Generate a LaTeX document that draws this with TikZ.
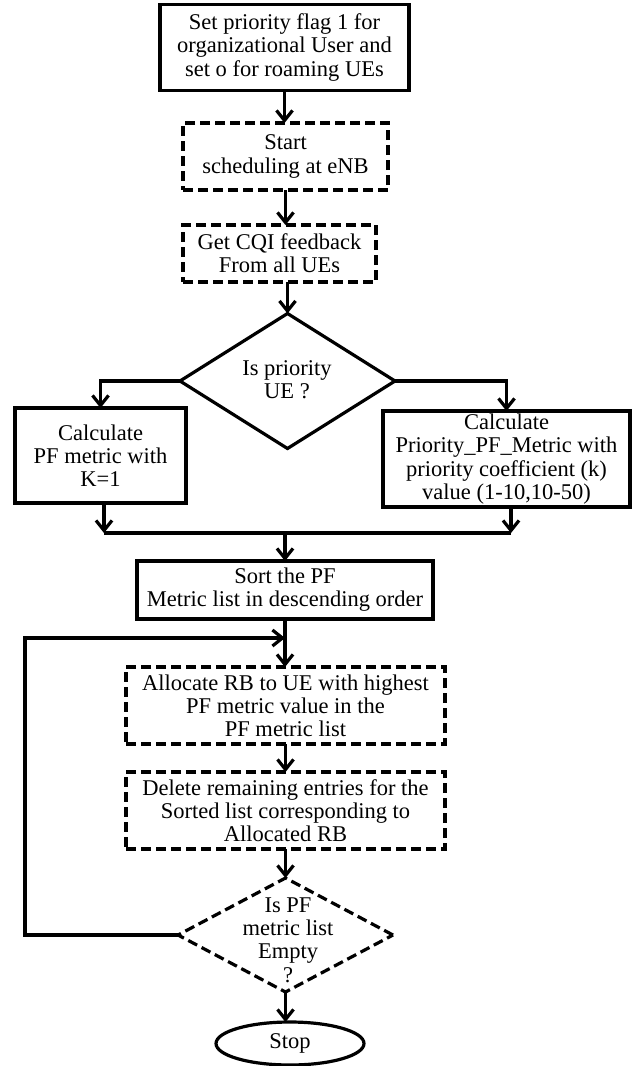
\documentclass[tikz,border=0pt]{standalone}
\usepackage{fontspec}
\setmainfont{Liberation Serif}
\usetikzlibrary{arrows.meta,shapes.geometric,calc}
\begin{document}
\begin{tikzpicture}[x=1pt,y=-1pt,
  every node/.style={font=\fontsize{22.5}{23.2}\selectfont, align=center, inner sep=0pt, outer sep=0pt},
  solidbox/.style={draw, line width=3.2pt, rectangle},
  dashbox/.style={draw, line width=3.2pt, rectangle, dash pattern=on 10pt off 5pt},
  dshape/.style={draw, diamond, line width=3.2pt},
  conn/.style={line width=3.2pt},
  arr/.style={line width=3.2pt, -{Straight Barb[length=10pt,width=16pt]}}
]
\useasboundingbox (0,0) rectangle (632,1066);

\node[solidbox, minimum width=249pt, minimum height=86pt] (b1) at (284.5,47.5)
  {Set priority flag 1 for\\organizational User and\\set o for roaming UEs};
\node[dashbox, minimum width=205pt, minimum height=67pt] (b2) at (285.5,156.5)
  {Start\\scheduling at eNB};
\node[dashbox, minimum width=193pt, minimum height=57pt] (b3) at (279.5,253.5)
  {Get CQI feedback\\From all UEs};
\node[dshape, minimum width=215pt, minimum height=135pt] (d1) at (287.5,381) {};
\node (d1t) at (287,380) {Is priority\\UE ?};
\node[solidbox, minimum width=171pt, minimum height=95pt] (lb) at (100.5,455.5)
  {Calculate\\PF metric with\\K=1};
\node[solidbox, minimum width=247pt, minimum height=96pt] (rb) at (506.5,459)
  {Calculate\\Priority\_PF\_Metric with\\priority coefficient (k)\\value (1-10,10-50)};
\node[solidbox, minimum width=296pt, minimum height=58pt] (sb) at (285,590)
  {Sort the PF\\Metric list in descending order};
\node[dashbox, minimum width=319pt, minimum height=77pt] (ab) at (285.5,705.5)
  {Allocate RB to UE with highest\\PF metric value in the\\PF metric list};
\node[dashbox, minimum width=319pt, minimum height=77pt] (db) at (285.5,810.5)
  {Delete remaining entries for the\\Sorted list corresponding to\\Allocated RB};
\node[dshape, dash pattern=on 10pt off 5pt, minimum width=215pt, minimum height=114pt] (d2) at (285.5,935) {};
\node (d2t) at (288,940) {Is PF\\metric list\\Empty\\?};
\node[draw, ellipse, line width=3.2pt, minimum width=148pt, minimum height=43pt] (stop) at (290,1043.5) {Stop};

\coordinate (mL) at (104,533);
\coordinate (mR) at (511,533);
\coordinate (mC) at (285,533);
\coordinate (lp) at (25,638);

\draw[arr] (b1.south) -- (b1.south |- b2.north);
\draw[arr] (b2.south) -- (b2.south |- b3.north);
\draw[arr] (d1.north |- b3.south) -- (d1.north);
\draw[arr] (d1.west) -| (lb.north);
\draw[arr] (d1.east) -| (rb.north);
\draw[arr] (lb.south -| mL) -- (mL);
\draw[arr] (rb.south -| mR) -- (mR);
\draw[conn] (mL) -- (mR);
\draw[arr] (mC) -- (mC |- sb.north);
\draw[arr] (sb.south) -- (sb.south |- ab.north);
\draw[arr] (d2.west) -| (lp) -- (sb.south |- lp);
\draw[arr] (ab.south) -- (db.north);
\draw[arr] (db.south) -- (d2.north);
\draw[arr] (d2.south) -- (d2.south |- stop.north);
\end{tikzpicture}
\end{document}
